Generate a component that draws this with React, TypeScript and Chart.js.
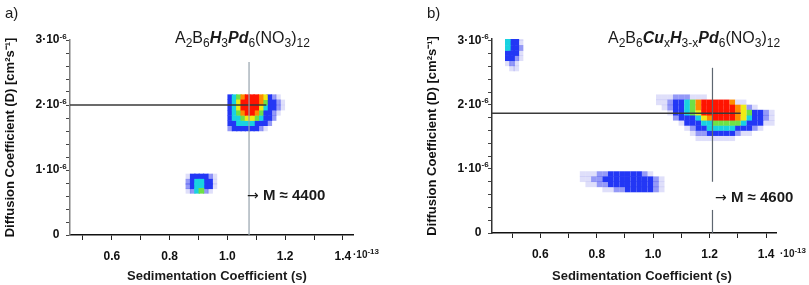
import React, { useEffect, useRef } from 'react';
import { Chart, registerables } from 'chart.js';

Chart.register(...registerables);

const FONT = '"Liberation Sans", Arial, Helvetica, sans-serif';

// x: sedimentation coefficient in units of 1e-13 s ; y: diffusion coefficient in units of 1e-6 cm2/s
const X_TICKS = [0.5, 0.6, 0.7, 0.8, 0.9, 1.0, 1.1, 1.2, 1.3, 1.4];
const X_LABELED = [0.6, 0.8, 1.0, 1.2, 1.4];
const Y_TICKS = [0, 0.2, 0.4, 0.6, 0.8, 1.0, 1.2, 1.4, 1.6, 1.8, 2.0, 2.2, 2.4, 2.6, 2.8, 3.0];
const Y_LABELED = [0, 1, 2, 3];
const Y_LABEL_BASE = ['0', '1·10', '2·10', '3·10'];
const Y_LABEL_EXP = ['', '-6', '-6', '-6'];

// intensity colour scale (level 0 = empty)
const LEVEL_COLORS = [
  'rgba(0,0,0,0)',
  'rgba(95,95,230,0.2)',
  'rgba(60,70,240,0.55)',
  'rgb(35,55,245)',
  'rgb(25,210,225)',
  'rgb(110,225,70)',
  'rgb(240,235,20)',
  'rgb(255,140,0)',
  'rgb(255,20,0)',
];

// ---------- panel a ----------
const A_X_RANGE = [0.455, 1.435];
const A_Y_RANGE = [0, 3.0];
const A_MAIN_X = [1.01, 1.025, 1.04, 1.055, 1.07, 1.085, 1.1, 1.115, 1.13, 1.145, 1.16, 1.175, 1.19];
const A_MAIN_Y = [2.12, 2.04, 1.96, 1.88, 1.8, 1.72, 1.64];
const A_MAIN_LEVELS = [
  [3, 4, 5, 7, 8, 8, 8, 7, 6, 3, 2, 1, 0],
  [3, 4, 6, 8, 8, 8, 8, 7, 5, 3, 3, 2, 1],
  [3, 4, 6, 8, 8, 8, 8, 6, 4, 3, 3, 2, 1],
  [3, 4, 5, 7, 8, 8, 7, 5, 3, 3, 2, 1, 0],
  [3, 4, 4, 5, 6, 6, 5, 4, 3, 3, 2, 0, 0],
  [3, 3, 4, 4, 4, 4, 3, 3, 3, 2, 0, 0, 0],
  [2, 3, 3, 3, 3, 3, 3, 2, 1, 0, 0, 0, 0],
];
const A_SMALL_X = [0.865, 0.88, 0.895, 0.91, 0.925, 0.94, 0.955];
const A_SMALL_Y = [0.9, 0.82, 0.75, 0.68];
const A_SMALL_LEVELS = [
  [1, 3, 3, 3, 3, 2, 1],
  [2, 3, 4, 4, 3, 3, 1],
  [2, 3, 4, 4, 3, 3, 1],
  [1, 2, 4, 5, 2, 1, 0],
];
const A_VLINE_X = 1.075;
const A_VLINE_Y = [0, 2.66];
const A_HLINE_Y = 2.0;
const A_HLINE_X = [0.455, 1.135];

// ---------- panel b ----------
const B_X_RANGE = [0.429, 1.435];
const B_Y_RANGE = [0, 3.03];
const B_TOP_X = [0.485, 0.5, 0.515, 0.53];
const B_TOP_Y = [3.05, 2.97, 2.89, 2.81, 2.73, 2.65, 2.57];
const B_TOP_LEVELS = [
  [4, 3, 3, 1],
  [4, 3, 3, 1],
  [4, 3, 3, 2],
  [3, 3, 3, 1],
  [3, 3, 2, 1],
  [1, 2, 1, 0],
  [0, 1, 1, 0],
];
const B_MAIN_X = [1.02, 1.04, 1.06, 1.08, 1.1, 1.12, 1.14, 1.16, 1.18, 1.2, 1.22, 1.24, 1.26, 1.28, 1.3, 1.32, 1.34, 1.36, 1.38, 1.4, 1.42];
const B_MAIN_Y = [2.12, 2.04, 1.96, 1.88, 1.8, 1.72, 1.64, 1.56, 1.48];
const B_MAIN_LEVELS = [
  [1, 1, 1, 2, 2, 2, 1, 1, 1, 0, 0, 0, 0, 0, 0, 0, 0, 0, 0, 0, 0],
  [1, 1, 2, 3, 3, 4, 5, 7, 8, 8, 8, 8, 8, 7, 1, 1, 0, 0, 0, 0, 0],
  [0, 1, 2, 3, 3, 4, 5, 7, 8, 8, 8, 8, 8, 8, 7, 6, 2, 1, 0, 0, 0],
  [0, 0, 1, 3, 3, 4, 5, 6, 8, 8, 8, 8, 8, 8, 7, 6, 5, 3, 3, 2, 1],
  [0, 0, 0, 2, 3, 3, 3, 4, 6, 7, 8, 8, 8, 8, 7, 6, 4, 3, 3, 2, 1],
  [0, 0, 0, 0, 1, 3, 3, 3, 4, 4, 5, 5, 5, 5, 5, 4, 3, 3, 3, 1, 1],
  [0, 0, 0, 0, 0, 1, 2, 3, 3, 4, 4, 4, 4, 4, 3, 3, 3, 2, 1, 0, 0],
  [0, 0, 0, 0, 0, 0, 1, 2, 2, 3, 3, 3, 3, 3, 2, 1, 1, 0, 0, 0, 0],
  [0, 0, 0, 0, 0, 0, 0, 1, 1, 1, 1, 1, 1, 1, 0, 0, 0, 0, 0, 0, 0],
];
const B_LOW_X = [0.75, 0.77, 0.79, 0.81, 0.83, 0.85, 0.87, 0.89, 0.91, 0.93, 0.95, 0.97, 0.99, 1.01, 1.03];
const B_LOW_Y = [0.92, 0.84, 0.76, 0.68];
const B_LOW_LEVELS = [
  [1, 1, 1, 2, 2, 3, 3, 3, 3, 3, 3, 2, 1, 0, 0],
  [1, 1, 2, 2, 3, 3, 3, 3, 3, 3, 3, 3, 3, 2, 1],
  [0, 1, 1, 2, 2, 3, 3, 3, 3, 3, 3, 3, 3, 2, 1],
  [0, 0, 0, 0, 1, 1, 2, 2, 3, 3, 3, 3, 3, 2, 1],
];
const B_VLINE_X = 1.21;
const B_VLINE_UPPER_Y = [0.8, 2.58];
const B_VLINE_LOWER_Y = [0, 0.36];
const B_HLINE_Y = 1.87;
const B_HLINE_X = [0.429, 1.31];

type Cell = { x: number; y: number; l: number };

function cells(blobs: Array<[number[], number[], number[][]]>): Cell[] {
  const pts: Cell[] = [];
  blobs.forEach(([xs, ys, lv]) => {
    ys.forEach((y, r) => {
      xs.forEach((x, c) => {
        const l = lv[r][c];
        if (l > 0) pts.push({ x, y, l });
      });
    });
  });
  pts.sort((a, b) => a.l - b.l);
  return pts;
}

const near = (a: number, b: number) => Math.abs(a - b) < 1e-6;

// draws the small raised exponent after the y tick labels, at the scale's own tick positions
const exponentPlugin = {
  id: 'yExponent',
  afterDraw(chart: any) {
    const s = chart.scales.y;
    const ctx = chart.ctx;
    ctx.save();
    ctx.font = `bold 8px ${FONT}`;
    ctx.fillStyle = '#111';
    ctx.textAlign = 'left';
    ctx.textBaseline = 'alphabetic';
    Y_LABELED.forEach((v, i) => {
      if (!Y_LABEL_EXP[i]) return;
      const y = s.getPixelForValue(v);
      ctx.fillText(Y_LABEL_EXP[i], s.right - 10.5, y - 1.5);
    });
    ctx.restore();
  },
};

type PanelCfg = {
  width: number;
  height: number;
  areaLeft: number;
  areaRight: number;
  areaTop: number;
  areaBottom: number;
  padLeft: number;
  xRange: number[];
  yRange: number[];
  pts: Cell[];
  lines: Array<{ pts: { x: number; y: number }[]; color: string; width: number }>;
  yAxisColor: string;
};

function Panel({ cfg }: { cfg: PanelCfg }) {
  const ref = useRef<HTMLCanvasElement | null>(null);
  useEffect(() => {
    if (!ref.current) return;
    const datasets: any[] = cfg.lines.map((ln) => ({
      type: 'line',
      data: ln.pts,
      borderColor: ln.color,
      borderWidth: ln.width,
      pointRadius: 0,
      fill: false,
      order: 0,
    }));
    datasets.push({
      type: 'scatter',
      data: cfg.pts.map((p) => ({ x: p.x, y: p.y })),
      pointStyle: 'rect',
      pointRadius: 4,
      pointBorderWidth: 0,
      pointBackgroundColor: cfg.pts.map((p) => LEVEL_COLORS[p.l]),
      order: 1,
    });
    const chart = new Chart(ref.current, {
      type: 'scatter',
      data: { datasets },
      plugins: [exponentPlugin],
      options: {
        animation: false,
        responsive: false,
        events: [],
        layout: {
          padding: {
            left: cfg.padLeft,
            top: cfg.areaTop,
            right: cfg.width - cfg.areaRight,
            bottom: 0,
          },
        },
        plugins: { legend: { display: false }, tooltip: { enabled: false } },
        scales: {
          x: {
            type: 'linear',
            min: cfg.xRange[0],
            max: cfg.xRange[1],
            afterBuildTicks: (s: any) => {
              s.ticks = X_TICKS.map((v) => ({ value: v }));
            },
            afterFit: (s: any) => {
              s.height = cfg.height - cfg.areaBottom;
            },
            ticks: {
              autoSkip: false,
              maxRotation: 0,
              minRotation: 0,
              padding: 9,
              color: '#111',
              font: { family: FONT, size: 12, weight: 'bold' },
              callback: (v: any) => (X_LABELED.some((t) => near(t, v)) ? Number(v).toFixed(1) : ''),
            },
            grid: { drawOnChartArea: false, drawTicks: true, tickLength: 5, color: '#222', lineWidth: 1 },
            border: { display: true, color: '#111', width: 1.5 },
          },
          y: {
            type: 'linear',
            min: cfg.yRange[0],
            max: cfg.yRange[1],
            afterBuildTicks: (s: any) => {
              s.ticks = Y_TICKS.map((v) => ({ value: v }));
            },
            afterFit: (s: any) => {
              s.width = cfg.areaLeft - cfg.padLeft;
            },
            ticks: {
              autoSkip: false,
              padding: 6.5,
              color: '#111',
              font: { family: FONT, size: 12, weight: 'bold' },
              callback: (v: any) => {
                const i = Y_LABELED.findIndex((t) => near(t, v));
                return i >= 0 ? Y_LABEL_BASE[i] : '';
              },
            },
            grid: { drawOnChartArea: false, drawTicks: true, tickLength: 4, color: '#444', lineWidth: 1 },
            border: { display: true, color: cfg.yAxisColor, width: 1.5 },
            title: {
              display: true,
              text: 'Diffusion Coefficient (D) [cm²s⁻¹]',
              color: '#111',
              padding: 0,
              font: { family: FONT, size: 13, weight: 'bold' },
            },
          },
        },
      } as any,
    });
    return () => chart.destroy();
  }, [cfg]);
  return <canvas ref={ref} width={cfg.width} height={cfg.height} style={{ display: 'block', width: cfg.width, height: cfg.height }} />;
}

const PANEL_A: PanelCfg = {
  width: 400,
  height: 285,
  areaLeft: 70,
  areaRight: 353,
  areaTop: 40,
  areaBottom: 235,
  padLeft: 3,
  xRange: A_X_RANGE,
  yRange: A_Y_RANGE,
  pts: cells([
    [A_MAIN_X, A_MAIN_Y, A_MAIN_LEVELS],
    [A_SMALL_X, A_SMALL_Y, A_SMALL_LEVELS],
  ]),
  lines: [
    { pts: [{ x: A_VLINE_X, y: A_VLINE_Y[0] }, { x: A_VLINE_X, y: A_VLINE_Y[1] }], color: '#97a3ad', width: 1.2 },
    { pts: [{ x: A_HLINE_X[0], y: A_HLINE_Y }, { x: A_HLINE_X[1], y: A_HLINE_Y }], color: '#3a3a3a', width: 1.6 },
  ],
  yAxisColor: '#808080',
};

const PANEL_B: PanelCfg = {
  width: 409,
  height: 285,
  areaLeft: 92,
  areaRight: 376,
  areaTop: 39,
  areaBottom: 233,
  padLeft: 25,
  xRange: B_X_RANGE,
  yRange: B_Y_RANGE,
  pts: cells([
    [B_TOP_X, B_TOP_Y, B_TOP_LEVELS],
    [B_MAIN_X, B_MAIN_Y, B_MAIN_LEVELS],
    [B_LOW_X, B_LOW_Y, B_LOW_LEVELS],
  ]),
  lines: [
    { pts: [{ x: B_VLINE_X, y: B_VLINE_UPPER_Y[0] }, { x: B_VLINE_X, y: B_VLINE_UPPER_Y[1] }], color: '#5d6670', width: 1.2 },
    { pts: [{ x: B_VLINE_X, y: B_VLINE_LOWER_Y[0] }, { x: B_VLINE_X, y: B_VLINE_LOWER_Y[1] }], color: '#5d6670', width: 1.2 },
    { pts: [{ x: B_HLINE_X[0], y: B_HLINE_Y }, { x: B_HLINE_X[1], y: B_HLINE_Y }], color: '#3a3a3a', width: 1.6 },
  ],
  yAxisColor: '#333',
};

const abs = (left: number, top: number, extra: React.CSSProperties = {}): React.CSSProperties => ({
  position: 'absolute',
  left,
  top,
  whiteSpace: 'nowrap',
  fontFamily: FONT,
  color: '#1a1a1a',
  pointerEvents: 'none',
  ...extra,
});

const Sub = ({ children }: { children: React.ReactNode }) => (
  <sub style={{ fontSize: '0.75em', verticalAlign: '-0.3em', lineHeight: 0 }}>{children}</sub>
);
const Sup = ({ children }: { children: React.ReactNode }) => (
  <sup style={{ fontSize: '0.8em', verticalAlign: '0.45em', lineHeight: 0 }}>{children}</sup>
);
const BI = ({ children }: { children: React.ReactNode }) => (
  <span style={{ fontWeight: 'bold', fontStyle: 'italic' }}>{children}</span>
);
const Arrow = () => (
  <span style={{ fontWeight: 'normal', fontFamily: '"DejaVu Sans", sans-serif', fontSize: 14 }}>→</span>
);

export default function App() {
  return (
    <div style={{ position: 'absolute', left: 0, top: 0, width: 809, height: 285, background: '#fff', overflow: 'hidden' }}>
      <div style={{ position: 'absolute', left: 0, top: 0 }}>
        <Panel cfg={PANEL_A} />
      </div>
      <div style={{ position: 'absolute', left: 400, top: 0 }}>
        <Panel cfg={PANEL_B} />
      </div>

      <div style={abs(5, 4, { fontSize: 15, lineHeight: '17px' })}>a)</div>
      <div style={abs(427, 4, { fontSize: 15, lineHeight: '17px' })}>b)</div>

      <div style={abs(175, 29, { fontSize: 16, lineHeight: '18px' })}>
        A<Sub>2</Sub>B<Sub>6</Sub>
        <BI>H</BI>
        <Sub>3</Sub>
        <BI>Pd</BI>
        <Sub>6</Sub>(NO<Sub>3</Sub>)<Sub>12</Sub>
      </div>
      <div style={abs(608, 29, { fontSize: 16, lineHeight: '18px' })}>
        A<Sub>2</Sub>B<Sub>6</Sub>
        <BI>Cu</BI>
        <Sub>x</Sub>
        <BI>H</BI>
        <Sub>3-x</Sub>
        <BI>Pd</BI>
        <Sub>6</Sub>(NO<Sub>3</Sub>)<Sub>12</Sub>
      </div>

      <div style={abs(247, 186, { fontSize: 15, lineHeight: '17px', fontWeight: 'bold' })}>
        <Arrow /> M ≈ 4400
      </div>
      <div style={abs(715, 188, { fontSize: 15, lineHeight: '17px', fontWeight: 'bold' })}>
        <Arrow /> M ≈ 4600
      </div>

      <div style={abs(353, 249, { fontSize: 10, lineHeight: '11px', fontWeight: 'bold' })}>
        ·10<Sup>-13</Sup>
      </div>
      <div style={abs(780, 248, { fontSize: 10, lineHeight: '11px', fontWeight: 'bold' })}>
        ·10<Sup>-13</Sup>
      </div>

      <div style={abs(127, 268, { fontSize: 13, lineHeight: '15px', fontWeight: 'bold' })}>Sedimentation Coefficient (s)</div>
      <div style={abs(552, 268, { fontSize: 13, lineHeight: '15px', fontWeight: 'bold' })}>Sedimentation Coefficient (s)</div>
    </div>
  );
}
